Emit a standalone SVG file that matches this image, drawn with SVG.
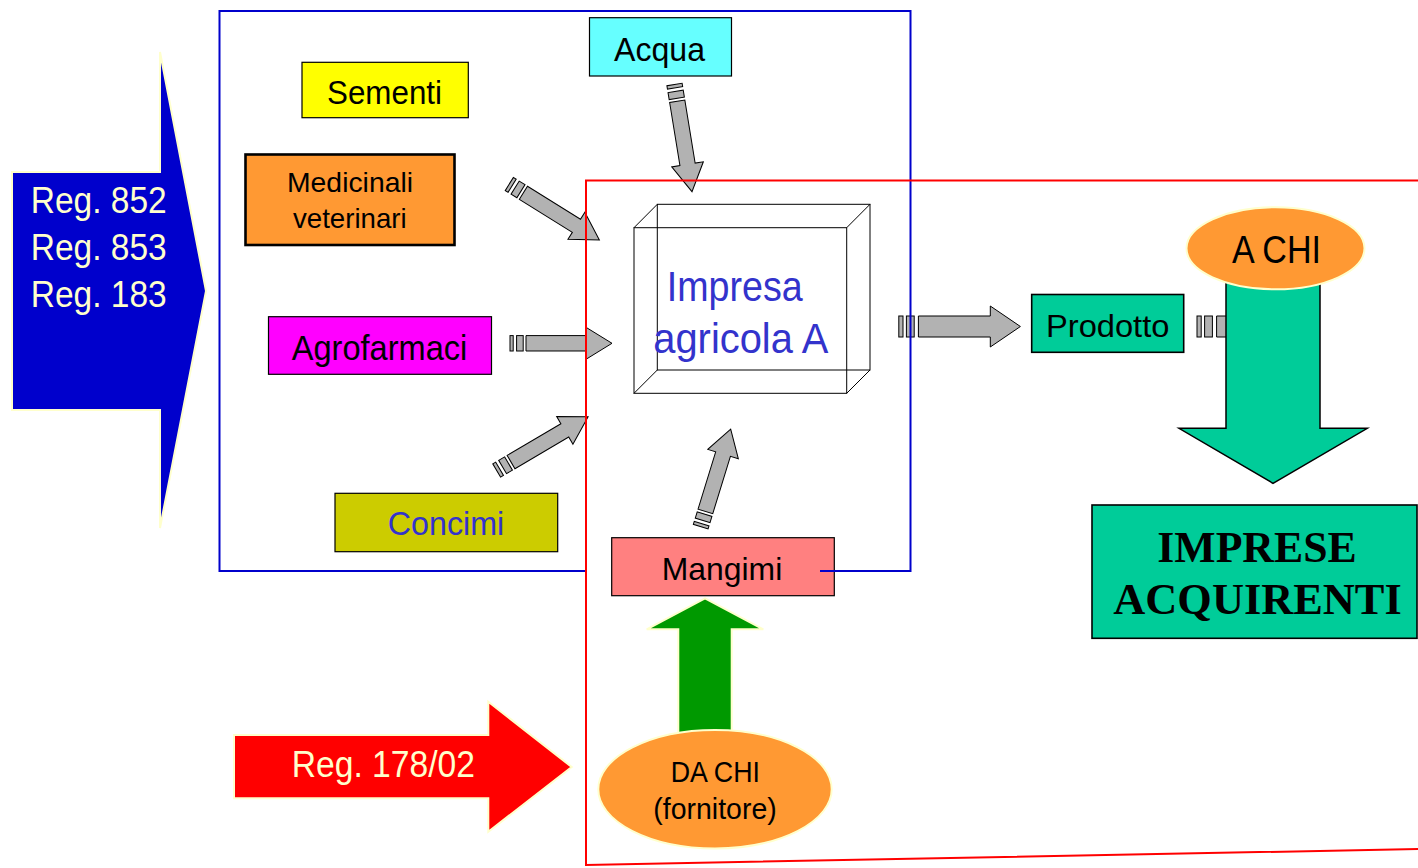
<svg xmlns="http://www.w3.org/2000/svg" xmlns:xlink="http://www.w3.org/1999/xlink" width="1418" height="868" viewBox="0 0 1418 868">
  <style>
    .sans { font-family: "Liberation Sans Narrow", "Liberation Sans", Arial, sans-serif; }
    .serifb { font-family: "Liberation Serif", "Times New Roman", serif; font-weight: bold; }
    .box { stroke: #000; stroke-width: 1.2; }
    .pipe { fill: #B2B2B2; stroke: #000; stroke-width: 1; }
    .cream { stroke: #FFFFCC; stroke-width: 2; }
    .wire { fill: none; stroke: #000; stroke-width: 1; }
  </style>
  <defs>
    <!-- small striped block arrow, tail at origin, pointing along +x -->
    <g id="tap">
      <rect x="0" y="-7.7" width="3.2" height="15.4"/>
      <rect x="6.6" y="-7.7" width="6.6" height="15.4"/>
      <path d="M16,-7.7 H76 V-16 L102,0 L76,16 V7.7 H16 Z"/>
    </g>
    <!-- larger striped block arrow -->
    <g id="tapL">
      <rect x="0" y="-10.5" width="4.2" height="21"/>
      <rect x="7.6" y="-10.5" width="7.8" height="21"/>
      <path d="M19.6,-10.5 H91.5 V-20.5 L121.6,0 L91.5,20.5 V10.5 H19.6 Z"/>
    </g>
  </defs>

  <rect width="1418" height="868" fill="#FFFFFF"/>

  <!-- regulation arrows -->
  <g id="reg-852-853-183">
    <path class="cream" d="M12,172 H160 V52 L206,291 L160,528 V410 H12 Z" fill="#0000CC"/>
    <g class="sans" font-size="36" fill="#FFFFCC">
      <text x="30.7" y="213" textLength="136" lengthAdjust="spacingAndGlyphs">Reg. 852</text>
      <text x="30.7" y="260" textLength="136" lengthAdjust="spacingAndGlyphs">Reg. 853</text>
      <text x="30.7" y="306.7" textLength="136" lengthAdjust="spacingAndGlyphs">Reg. 183</text>
    </g>
  </g>
  <g id="reg-178-02">
    <path class="cream" d="M234,735 H488.3 V701.7 L571.7,767 L488.3,831.7 V798.3 H234 Z" fill="#FF0000"/>
    <text class="sans" x="291.7" y="777.3" font-size="36" fill="#FFFFCC" textLength="183.3" lengthAdjust="spacingAndGlyphs">Reg. 178/02</text>
  </g>

  <!-- input nodes -->
  <g id="sementi">
    <rect class="box" x="302" y="62.3" width="166.3" height="55.4" fill="#FFFF00"/>
    <text class="sans" x="327" y="104.3" font-size="34" fill="#000" textLength="115" lengthAdjust="spacingAndGlyphs">Sementi</text>
  </g>
  <g id="medicinali">
    <rect x="245.5" y="154.5" width="209" height="90.5" fill="#FF9933" stroke="#000" stroke-width="2.6"/>
    <g class="sans" font-size="28" fill="#000">
      <text x="287" y="191.7" textLength="126" lengthAdjust="spacingAndGlyphs">Medicinali</text>
      <text x="293" y="228.3" textLength="113.7" lengthAdjust="spacingAndGlyphs">veterinari</text>
    </g>
  </g>
  <g id="acqua">
    <rect class="box" x="589.5" y="17.7" width="142" height="58.3" fill="#66FFFF"/>
    <text class="sans" x="614" y="60.7" font-size="33" fill="#000" textLength="91" lengthAdjust="spacingAndGlyphs">Acqua</text>
  </g>
  <g id="agrofarmaci">
    <rect class="box" x="268.5" y="316.7" width="223" height="57.6" fill="#FF00FF"/>
    <text class="sans" x="291.7" y="360" font-size="35" fill="#000" textLength="175.6" lengthAdjust="spacingAndGlyphs">Agrofarmaci</text>
  </g>
  <g id="concimi">
    <rect class="box" x="335" y="493.3" width="222.7" height="58.4" fill="#CCCC00"/>
    <text class="sans" x="387.7" y="535" font-size="34" fill="#3333CC" textLength="116.6" lengthAdjust="spacingAndGlyphs">Concimi</text>
  </g>
  <g id="mangimi">
    <rect class="box" x="611.7" y="537.7" width="222.6" height="58" fill="#FF8080"/>
    <text class="sans" x="661.7" y="580" font-size="32" fill="#000" textLength="120.6" lengthAdjust="spacingAndGlyphs">Mangimi</text>
  </g>

  <!-- the farm enterprise, drawn as a wireframe box -->
  <g id="impresa-agricola">
    <rect class="wire" x="657.3" y="204.3" width="212.7" height="165.7"/>
    <rect class="wire" x="634" y="227.7" width="212.7" height="165.6"/>
    <path class="wire" d="M634,227.7 L657.3,204.3 M846.7,227.7 L870,204.3 M634,393.3 L657.3,370 M846.7,393.3 L870,370"/>
    <g class="sans" font-size="42" fill="#3333CC">
      <text x="666.7" y="301" textLength="136" lengthAdjust="spacingAndGlyphs">Impresa</text>
      <text x="653.3" y="352.7" textLength="175" lengthAdjust="spacingAndGlyphs">agricola A</text>
    </g>
  </g>

  <g id="prodotto">
    <rect x="1031.7" y="294.5" width="152" height="57.8" fill="#00CC99" stroke="#000" stroke-width="1.6"/>
    <text class="sans" x="1046" y="336.7" font-size="32" fill="#000" textLength="123.4" lengthAdjust="spacingAndGlyphs">Prodotto</text>
  </g>

  <g id="imprese-acquirenti">
    <rect x="1092" y="505" width="325" height="133.3" fill="#00CC99" stroke="#000" stroke-width="1.6"/>
    <g class="serifb" font-size="44" fill="#000">
      <text x="1157.3" y="561.7" textLength="199.4" lengthAdjust="spacingAndGlyphs">IMPRESE</text>
      <text x="1113.3" y="614" textLength="288.4" lengthAdjust="spacingAndGlyphs">ACQUIRENTI</text>
    </g>
  </g>

  <!-- flows into and out of the enterprise -->
  <g id="connectors" class="pipe">
    <use xlink:href="#tap" transform="translate(674.5,84.5) rotate(80.73) scale(1.065,1)"/>
    <use xlink:href="#tap" transform="translate(509.3,184) rotate(31.89) scale(1.04,1)"/>
    <use xlink:href="#tap" transform="translate(510,343.3)"/>
    <use xlink:href="#tap" transform="translate(496.7,470.5) rotate(-30.5) scale(1.04,1)"/>
    <use xlink:href="#tap" transform="translate(700.7,526.7) rotate(-72.9)"/>
    <use xlink:href="#tapL" transform="translate(898.8,326.5)"/>
    <use xlink:href="#tapL" transform="translate(1197,326.5)"/>
  </g>

  <!-- downstream: to whom -->
  <g id="a-chi">
    <path d="M1226,270 H1320 V428.3 H1367.3 L1273,483.3 L1179,428.3 H1226 Z" fill="#00CC99" stroke="#000" stroke-width="1.5"/>
    <ellipse class="cream" cx="1275.5" cy="248.3" rx="89" ry="41" fill="#FF9933"/>
    <text class="sans" x="1232" y="263.3" font-size="38" fill="#000" textLength="89" lengthAdjust="spacingAndGlyphs">A CHI</text>
  </g>

  <!-- upstream: from whom -->
  <g id="da-chi">
    <path class="cream" d="M705,598.3 L763.3,629.3 H731.7 V745 H678.3 V629.3 H646.7 Z" fill="#009900"/>
    <ellipse class="cream" cx="715" cy="789.2" rx="116.7" ry="59.2" fill="#FF9933"/>
    <g class="sans" font-size="29" fill="#000">
      <text x="670.7" y="782.3" textLength="89.3" lengthAdjust="spacingAndGlyphs">DA CHI</text>
      <text x="653.3" y="819.3" textLength="123.4" lengthAdjust="spacingAndGlyphs">(fornitore)</text>
    </g>
  </g>

  <!-- scope frames -->
  <g id="frames" fill="none" stroke-width="2">
    <polyline points="586,571 219.5,571 219.5,11 910.5,11 910.5,571 820,571" stroke="#0000CC"/>
    <polyline points="1420,180.5 586,180.5 586,865 1420,849" stroke="#FF0000"/>
  </g>
</svg>
